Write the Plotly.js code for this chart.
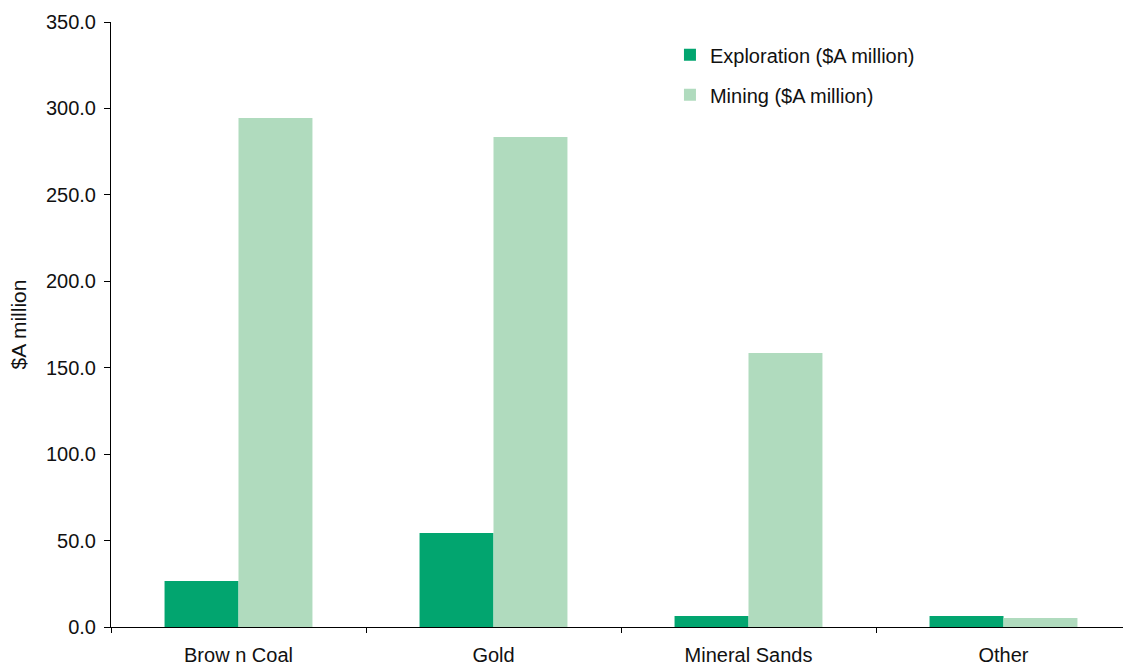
<!DOCTYPE html>
<html>
<head>
<meta charset="utf-8">
<script src="https://cdn.plot.ly/plotly-3.0.1.min.js"></script>
<style>
  html, body { margin: 0; padding: 0; background: #fff; overflow: hidden; }
  #chart { width: 1140px; height: 666px; }
</style>
</head>
<body>
<div id="chart"></div>
<script>
// Expenditure by commodity, $A million
const categories = ["Brow n Coal", "Gold", "Mineral Sands", "Other"];
const exploration = [26.6, 54.4, 6.4, 6.4];
const mining = [294.5, 283.5, 158.5, 5.2];
const yTicks = [0, 50, 100, 150, 200, 250, 300, 350];

const fontFamily = "Liberation Sans, Arial, sans-serif";
const textColor = "#111111";

const traces = [
  {
    type: "bar",
    name: "Exploration ($A million)",
    x: categories,
    y: exploration,
    marker: { color: "#02A56F" },
    legendgroup: "exp",
    hoverinfo: "x+y"
  },
  {
    type: "bar",
    name: "Mining ($A million)",
    x: categories,
    y: mining,
    marker: { color: "#B0DBBE" },
    legendgroup: "min",
    hoverinfo: "x+y"
  }
];

const layout = {
  width: 1140,
  height: 666,
  margin: { l: 111, r: 9, t: 22, b: 39 },
  paper_bgcolor: "#ffffff",
  plot_bgcolor: "#ffffff",
  font: { family: fontFamily, size: 20, color: textColor },
  barmode: "group",
  bargap: 0.42,
  bargroupgap: 0,
  showlegend: true,
  legend: {
    x: 0.548,
    y: 0.978,
    xanchor: "left",
    yanchor: "top",
    bgcolor: "rgba(0,0,0,0)",
    traceorder: "grouped",
    tracegroupgap: 11,
    font: { family: fontFamily, size: 20, color: textColor }
  },
  xaxis: {
    type: "category",
    range: [-0.5, 3.5],
    showline: true,
    linecolor: "#000000",
    linewidth: 1,
    ticks: "outside",
    tickson: "boundaries",
    ticklen: 5,
    tickcolor: "#000000",
    showgrid: false,
    zeroline: false,
    ticklabelstandoff: 10,
    tickfont: { family: fontFamily, size: 20, color: textColor }
  },
  yaxis: {
    range: [0, 350],
    tickvals: yTicks,
    ticktext: yTicks.map(v => v.toFixed(1)),
    showline: true,
    linecolor: "#000000",
    linewidth: 1,
    ticks: "outside",
    ticklen: 6,
    tickcolor: "#000000",
    showgrid: false,
    zeroline: false,
    ticklabelstandoff: 4,
    tickfont: { family: fontFamily, size: 20, color: textColor },
    title: {
      text: "$A million",
      standoff: 13,
      font: { family: fontFamily, size: 21, color: textColor }
    }
  }
};

Plotly.newPlot("chart", traces, layout, { displayModeBar: false, staticPlot: true });
</script>
</body>
</html>
